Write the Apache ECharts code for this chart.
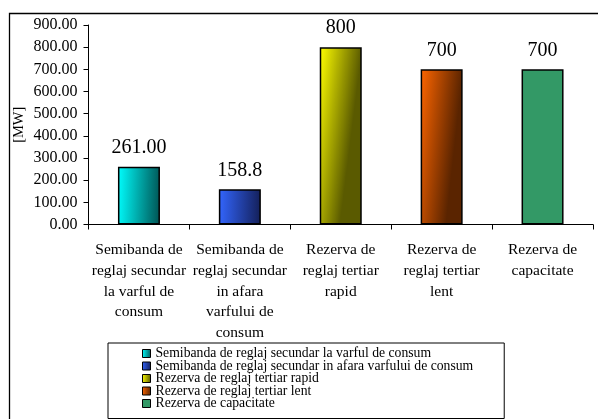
<!DOCTYPE html>
<html>
<head>
<meta charset="utf-8">
<script src="https://cdn.jsdelivr.net/npm/echarts@6/dist/echarts.min.js"></script>
<style>
html,body{margin:0;padding:0;background:#fff;}
#c{width:598px;height:419px;}
</style>
</head>
<body>
<div id="c"></div>
<script>
var categories = [
  'Semibanda de reglaj secundar la varful de consum',
  'Semibanda de reglaj secundar in afara varfului de consum',
  'Rezerva de reglaj tertiar rapid',
  'Rezerva de reglaj tertiar lent',
  'Rezerva de capacitate'
];
var tickLabels = [
  'Semibanda de\nreglaj secundar\nla varful de\nconsum',
  'Semibanda de\nreglaj secundar\nin afara\nvarfului de\nconsum',
  'Rezerva de\nreglaj tertiar\nrapid',
  'Rezerva de\nreglaj tertiar\nlent',
  'Rezerva de\ncapacitate'
];
var values = [261, 158.8, 800, 700, 700];
var valueLabels = ['261.00', '158.8', '800', '700', '700'];
var yTicks = [0, 100, 200, 300, 400, 500, 600, 700, 800, 900];

var colorsLight = ['#00FFFF', '#3366FF', '#FFFF00', '#FF6600', '#339966'];
var colorsDark  = ['#005A5A', '#14205A', '#5A5A00', '#5A2400', '#339966'];

var FONT = '"Liberation Serif", "Times New Roman", serif';

var series = categories.map(function (name, i) {
  return {
    name: name,
    type: 'bar',
    stack: 'all',
    barWidth: 42,
    data: values.map(function (v, j) { return j === i ? v : '-'; }),
    itemStyle: {
      color: new echarts.graphic.LinearGradient(0, 0, 1, 0.03, [
        { offset: 0, color: colorsLight[i] },
        { offset: 1, color: colorsDark[i] }
      ]),
      borderColor: '#000',
      borderWidth: 1.5
    },
    label: {
      show: true,
      position: 'top',
      distance: 9,
      color: '#000',
      fontFamily: FONT,
      fontSize: 20,
      formatter: function (p) { return valueLabels[p.dataIndex]; }
    },
    emphasis: { disabled: true }
  };
});

var chart = echarts.init(document.getElementById('c'), null, { renderer: 'canvas' });
chart.setOption({
  animation: false,
  backgroundColor: '#fff',
  graphic: [{
    type: 'rect',
    left: 7, top: 11,
    shape: { x: 0, y: 0, width: 620, height: 440 },
    style: { fill: 'none', stroke: '#000', lineWidth: 1.3 },
    silent: true
  }],
  grid: { left: 88.5, right: 5, top: 25, bottom: 194.5, containLabel: false },
  xAxis: {
    type: 'category',
    data: categories,
    axisLine: { lineStyle: { color: '#000', width: 1 } },
    axisTick: { show: true, length: 5, lineStyle: { color: '#000' } },
    axisLabel: {
      interval: 0,
      margin: 15,
      color: '#000',
      fontFamily: FONT,
      fontSize: 15.5,
      lineHeight: 20.8,
      formatter: function (v, idx) { return tickLabels[idx]; }
    }
  },
  yAxis: {
    type: 'value',
    min: yTicks[0],
    max: yTicks[yTicks.length - 1],
    interval: 100,
    name: '[MW]',
    nameLocation: 'middle',
    nameGap: 61.5,
    nameMoveOverlap: false,
    nameRotate: 90,
    nameTextStyle: { color: '#000', fontFamily: FONT, fontSize: 14.5 },
    axisLine: { show: true, lineStyle: { color: '#000', width: 1 } },
    axisTick: { show: true, length: 5, lineStyle: { color: '#000' } },
    splitLine: { show: false },
    axisLabel: {
      margin: 11,
      color: '#000',
      fontFamily: FONT,
      fontSize: 16,
      formatter: function (v) { return v.toFixed(2); }
    }
  },
  legend: {
    orient: 'vertical',
    left: 108,
    top: 343,
    height: 200,
    padding: [3.5, 31, 8, 34],
    borderColor: '#000',
    borderWidth: 1,
    itemGap: -1.5,
    itemWidth: 8,
    itemHeight: 8,
    icon: 'rect',
    itemStyle: { borderColor: '#000', borderWidth: 1 },
    textStyle: { color: '#000', fontFamily: FONT, fontSize: 13.7, lineHeight: 12.5 },
    data: categories,
    selectedMode: false
  },
  series: series
});
</script>
</body>
</html>
